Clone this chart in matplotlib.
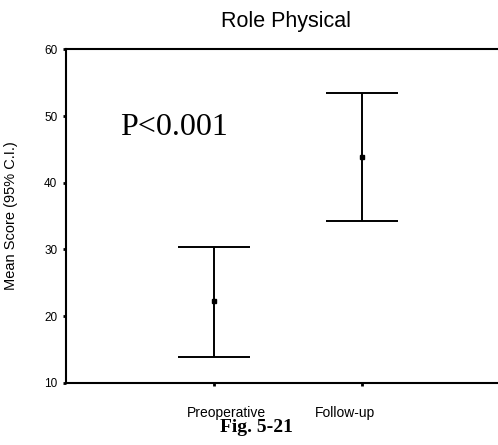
import matplotlib.pyplot as plt
from matplotlib.transforms import blended_transform_factory

# data
groups = ['Preoperative', 'Follow-up']
means = [22.2, 43.9]
ci_low = [13.8, 34.3]
ci_high = [30.3, 53.5]
label_shift = [9, -12]  # points, labels sit off-centre in the original

plt.rcParams['font.family'] = ['Liberation Sans', 'DejaVu Sans']

fig = plt.figure(figsize=(4.98, 4.45), dpi=100)
# axes runs past the right edge of the picture, like the original crop
ax = fig.add_axes([0.1325, 0.14, 0.8916, 0.749])

xs = [1, 2]
err = [[m - lo for m, lo in zip(means, ci_low)],
       [hi - m for m, hi in zip(means, ci_high)]]
ax.errorbar(xs, means, yerr=err, fmt='s', color='black', ms=3.5,
            elinewidth=1.4, capsize=26, capthick=1.4)

ax.set_xlim(0, 3)
ax.set_ylim(10, 60)
ax.set_yticks([10, 20, 30, 40, 50, 60])
ax.set_xticks(xs)
ax.set_xticklabels([])
for s in ['left', 'bottom', 'top', 'right']:
    ax.spines[s].set_linewidth(1.5)
ax.tick_params(axis='both', direction='out', length=2.2, width=2, labelsize=8.5, pad=4)

trans = blended_transform_factory(ax.transData, ax.transAxes)
for x, g, dx in zip(xs, groups, label_shift):
    ax.annotate(g, xy=(x, 0), xycoords=trans, xytext=(dx, -22),
                textcoords='offset points', ha='center', va='center', fontsize=10)

ax.set_ylabel('Mean Score (95% C.I.)', fontsize=10.5)
ax.yaxis.set_label_coords(-0.108, 0.5)

ax.text(0.365, 47.2, 'P<0.001', fontsize=23, family='Liberation Serif',
        ha='left', va='baseline')

fig.text(286 / 498, 1 - 22 / 445, 'Role Physical', fontsize=15.5,
         ha='center', va='center')
fig.text(256 / 498, 1 - 428 / 445, 'Fig. 5-21', fontsize=14,
         family='Liberation Serif', weight='bold', ha='center', va='center')

fig.savefig('out.png', dpi=100)
